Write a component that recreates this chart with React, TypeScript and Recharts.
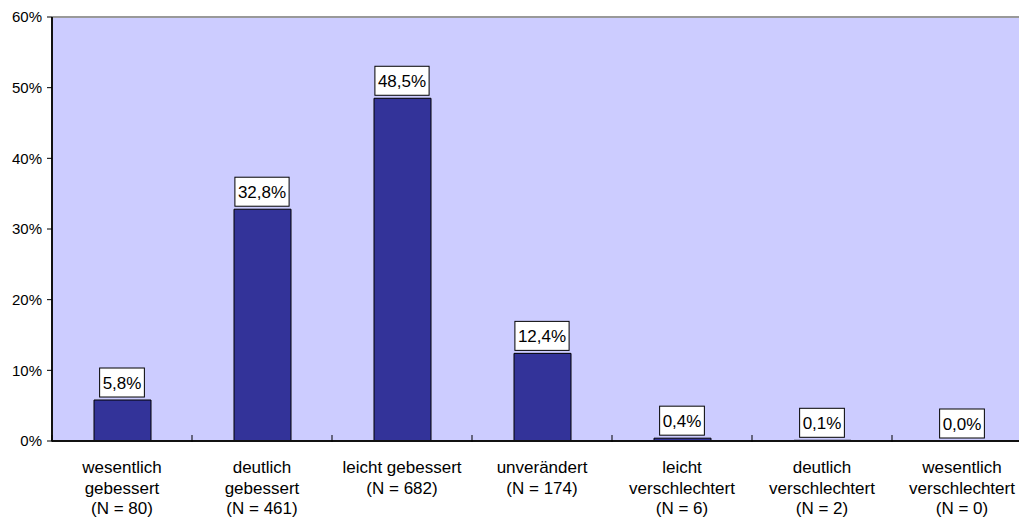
import React from "react";
import {
  ComposedChart,
  Bar,
  Line,
  XAxis,
  YAxis,
  CartesianGrid,
  ReferenceLine,
  LabelList,
} from "recharts";

const categoryLabels = [
  "wesentlich\ngebessert\n(N = 80)",
  "deutlich\ngebessert\n(N = 461)",
  "leicht gebessert\n(N = 682)",
  "unverändert\n(N = 174)",
  "leicht\nverschlechtert\n(N = 6)",
  "deutlich\nverschlechtert\n(N = 2)",
  "wesentlich\nverschlechtert\n(N = 0)",
];
const shares = [5.8, 32.8, 48.5, 12.4, 0.4, 0.1, 0.0];
const yTicks = [0, 10, 20, 30, 40, 50, 60];

const data = categoryLabels.map((c, i) => ({ cat: c, value: shares[i] }));

const FONT = "Arial, 'Liberation Sans', sans-serif";

const fmt = (v: number) => v.toFixed(1).replace(".", ",") + "%";

const charW = (ch: string) => {
  if (ch === "%") return 0.889;
  if (ch === "," || ch === ".") return 0.278;
  return 0.556;
};

const ValueBox = (props: any) => {
  const { x, y, value } = props;
  const label = fmt(Number(value));
  const fs = 17;
  const tw = label.split("").reduce((s, ch) => s + charW(ch), 0) * fs;
  const w = tw + 6;
  const h = 29;
  const cx = x;
  const top = y - 3 - h;
  return (
    <g>
      <rect x={cx - w / 2} y={top} width={w} height={h} fill="#ffffff" stroke="#000000" strokeWidth={1} />
      <text
        x={cx}
        y={top + h / 2 + 6}
        textAnchor="middle"
        fontSize={fs}
        fontFamily={FONT}
        fill="#000"
      >
        {label}
      </text>
    </g>
  );
};

const CatTick = (props: any) => {
  const { x, y, payload, width, visibleTicksCount, index } = props;
  const lines = String(payload.value).split("\n");
  const band = width / (visibleTicksCount || 7);
  const left = x - band / 2;
  const right = x + band / 2;
  return (
    <g>
      <line x1={left} x2={left} y1={y - 6} y2={y + 1} stroke="#000" strokeWidth={1} />
      {index === (visibleTicksCount || 7) - 1 && (
        <line x1={right} x2={right} y1={y - 6} y2={y + 1} stroke="#000" strokeWidth={1} />
      )}
      <text x={x} y={y} textAnchor="middle" fontSize={17} fontFamily={FONT} fill="#000">
        {lines.map((l, i) => (
          <tspan key={i} x={x} y={y + 32 + i * 20.5}>
            {l}
          </tspan>
        ))}
      </text>
    </g>
  );
};

export default function App() {
  return (
    <div
      style={{
        position: "absolute",
        left: 0,
        top: 0,
        width: 1019,
        height: 518,
        overflow: "hidden",
        background: "#fff",
      }}
    >
      <ComposedChart
        width={1032}
        height={518}
        data={data}
        margin={{ top: 17, right: 0, bottom: 0, left: 0 }}
        barSize={57}
      >
        <CartesianGrid fill="#CCCCFF" horizontal={false} vertical={false} />
        <ReferenceLine y={60} stroke="#999999" strokeWidth={2} />
        <Bar dataKey="value" fill="#333399" stroke="#000" strokeWidth={1} isAnimationActive={false} />
        <XAxis
          dataKey="cat"
          height={77}
          tickLine={false}
          tickSize={0}
          tickMargin={0}
          axisLine={{ stroke: "#111", strokeWidth: 2 }}
          tick={<CatTick />}
          interval={0}
        />
        <YAxis
          width={52}
          domain={[0, 60]}
          ticks={yTicks}
          tickFormatter={(v: number) => `${v}%`}
          tickSize={5}
          tickMargin={5}
          axisLine={{ stroke: "#111", strokeWidth: 2 }}
          tickLine={{ stroke: "#000" }}
          tick={{ fontSize: 15, fontFamily: FONT, fill: "#000" }}
        />
        <Line
          dataKey="value"
          stroke="none"
          dot={false}
          activeDot={false}
          legendType="none"
          isAnimationActive={false}
        >
          <LabelList dataKey="value" content={<ValueBox />} />
        </Line>
      </ComposedChart>
    </div>
  );
}
